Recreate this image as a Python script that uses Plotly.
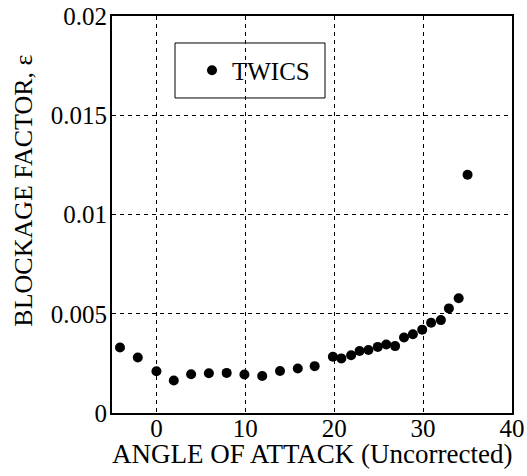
import plotly.graph_objects as go

# Blockage factor measured in the TWICS tunnel vs. uncorrected angle of attack
alpha = [-4.1, -2.1, 0.0, 1.95, 3.9, 5.9, 7.9, 9.9, 11.9, 13.9, 15.9, 17.8,
         19.85, 20.8, 21.9, 22.85, 23.85, 24.9, 25.85, 26.85, 27.85, 28.85,
         29.9, 30.9, 32.0, 32.9, 34.0, 35.0]
blockage = [0.0033, 0.0028, 0.0021, 0.00164, 0.00195, 0.0020, 0.00202, 0.00194,
            0.00186, 0.00212, 0.00224, 0.00236, 0.00283, 0.00275, 0.00291,
            0.00312, 0.00317, 0.00333, 0.00345, 0.00337, 0.0038, 0.00397,
            0.0042, 0.00455, 0.00468, 0.00527, 0.00578, 0.0120]

x_ticks = [0, 10, 20, 30, 40]
y_ticks = [0, 0.005, 0.01, 0.015, 0.02]
y_tick_labels = ["0", "0.005", "0.01", "0.015", "0.02"]

FONT = "Liberation Serif, Times New Roman, serif"

fig = go.Figure()
fig.add_trace(go.Scatter(
    x=alpha, y=blockage, mode="markers", name="TWICS",
    marker=dict(color="black", size=10, line=dict(width=0)),
))

axis_common = dict(
    showline=True, linecolor="black", linewidth=2, mirror=True,
    showgrid=True, gridcolor="black", gridwidth=1, griddash="4px,4px",
    zeroline=False, ticks="", automargin=False,
    tickfont=dict(family=FONT, size=25, color="black"),
)

fig.update_xaxes(range=[-5, 40], tickvals=x_ticks, ticklabelstandoff=-8,
                 **axis_common)
fig.update_yaxes(range=[0, 0.02], tickvals=y_ticks, ticktext=y_tick_labels,
                 ticklabelstandoff=-2, **axis_common)

# Axis titles placed as annotations
fig.add_annotation(text="ANGLE OF ATTACK (Uncorrected)", showarrow=False,
                   xref="paper", yref="paper", x=0.5, y=-0.104,
                   xanchor="center", yanchor="middle",
                   font=dict(family=FONT, size=27, color="black"))
fig.add_annotation(text="BLOCKAGE FACTOR, ε", textangle=-90, showarrow=False,
                   xref="paper", yref="paper", x=-0.22, y=0.56,
                   xanchor="center", yanchor="middle",
                   font=dict(family=FONT, size=26, color="black"))

# Legend frame
fig.add_shape(type="rect", xref="paper", yref="paper",
              x0=0.1575, x1=0.5325, y0=0.7935, y1=0.932,
              line=dict(color="black", width=1), fillcolor="white", layer="below")

fig.update_layout(
    width=527, height=476,
    margin=dict(l=112, r=15, t=16, b=63, autoexpand=False),
    paper_bgcolor="white", plot_bgcolor="white",
    font=dict(family=FONT, color="black"),
    showlegend=True,
    legend=dict(x=0.2, y=0.8627, xanchor="left", yanchor="middle",
                bgcolor="rgba(0,0,0,0)", borderwidth=0,
                font=dict(family=FONT, size=25, color="black")),
)

fig.write_html("out.html")
